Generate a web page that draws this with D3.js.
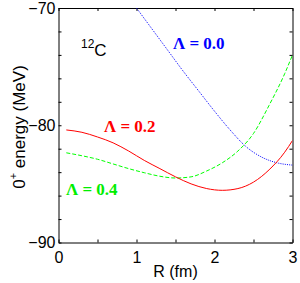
<!DOCTYPE html>
<html>
<head>
<meta charset="utf-8">
<script src="https://cdn.jsdelivr.net/npm/d3@7"></script>
<style>
  body { margin: 0; background: #fff; }
  svg { display: block; }
  .tick text { font-family: "Liberation Sans", Arial, sans-serif; font-size: 16px; }
  .lab { font-family: "Liberation Sans", Arial, sans-serif; }
  .lam { font-family: "Liberation Serif", "Times New Roman", serif; font-weight: bold; font-size: 17px; }
</style>
</head>
<body>
<svg width="300" height="283"></svg>
<script>
// R (fm) and 0+ energy (MeV) for each Lambda
var rBlue = [1.0, 1.2, 1.4, 1.6, 1.8, 2.0, 2.2, 2.4, 2.6, 2.8, 3.0],
    eBlue = [-70.0, -71.8, -73.6, -75.4, -77.1, -78.8, -80.4, -81.8, -82.7, -83.2, -83.4];

var rRed = [0.1, 0.3, 0.5, 0.7, 0.9, 1.1, 1.3, 1.5, 1.7, 1.9, 2.1, 2.3, 2.5, 2.7, 2.9, 3.0],
    eRed = [-80.4, -80.6, -81.0, -81.5, -82.2, -83.0, -83.7, -84.4, -85.0, -85.4, -85.55, -85.4, -84.85, -83.8, -82.3, -81.3];

var rGreen = [0.1, 0.3, 0.5, 0.7, 0.9, 1.1, 1.3, 1.5, 1.7, 1.9, 2.1, 2.3, 2.5, 2.7, 2.9, 3.0],
    eGreen = [-82.35, -82.6, -82.9, -83.3, -83.7, -84.05, -84.35, -84.5, -84.4, -83.9, -83.2, -82.2, -80.7, -78.3, -75.6, -74.0];

var xTicks = [0, 1, 2, 3],
    xMinor = [0, 0.5, 1, 1.5, 2, 2.5, 3],
    yTicks = [-90, -80, -70],
    yMinor = [-90, -88, -86, -84, -82, -80, -78, -76, -74, -72, -70];

var svg = d3.select("svg"),
    margin = {top: 8, right: 7.5, bottom: 40.5, left: 58.5},
    width = +svg.attr("width") - margin.left - margin.right,
    height = +svg.attr("height") - margin.top - margin.bottom,
    g = svg.append("g")
      .attr("transform", "translate(" + margin.left + "," + margin.top + ")");

var x = d3.scaleLinear().domain([0, 3]).range([0, width]);
var y = d3.scaleLinear().domain([-90, -70]).range([height, 0]);

var line = d3.line()
    .x(function(d) { return x(d[0]); })
    .y(function(d) { return y(d[1]); })
    .curve(d3.curveMonotoneX);

g.append("defs").append("clipPath")
    .attr("id", "clip")
  .append("rect")
    .attr("width", width)
    .attr("height", height);

// axes, ticks pointing inward on all four sides
function noLabels(a) { return a.tickFormat(""); }

g.append("g")
    .attr("transform", "translate(0," + height + ")")
    .call(noLabels(d3.axisBottom(x).tickValues(xMinor).tickSizeInner(-3).tickSizeOuter(0)));
g.append("g")
    .attr("transform", "translate(0," + height + ")")
    .call(d3.axisBottom(x).tickValues(xTicks).tickSize(0).tickPadding(9).tickFormat(d3.format("d")))
    .call(function(s) { s.select(".domain").remove(); });
g.append("g")
    .call(noLabels(d3.axisTop(x).tickValues(xMinor).tickSizeInner(-3).tickSizeOuter(0)));

g.append("g")
    .call(noLabels(d3.axisLeft(y).tickValues(yMinor).tickSizeInner(-3).tickSizeOuter(0)));
g.append("g")
    .call(d3.axisLeft(y).tickValues(yTicks).tickSize(0).tickPadding(3).tickFormat(function(d) { return "\u2212" + Math.abs(d); }))
    .call(function(s) { s.select(".domain").remove(); });
g.append("g")
    .attr("transform", "translate(" + width + ",0)")
    .call(noLabels(d3.axisRight(y).tickValues(yMinor).tickSizeInner(-3).tickSizeOuter(0)));

g.selectAll(".domain").attr("stroke", "#000");
g.selectAll(".tick line").attr("stroke", "#000");
g.selectAll(".tick text").attr("fill", "#000");

// curves
var curves = g.append("g").attr("clip-path", "url(#clip)");

curves.append("path")
    .datum(d3.zip(rBlue, eBlue))
    .attr("d", line)
    .attr("fill", "none")
    .attr("stroke", "#0000ff")
    .attr("stroke-width", 1)
    .attr("stroke-dasharray", "1,1.2");

curves.append("path")
    .datum(d3.zip(rGreen, eGreen))
    .attr("d", line)
    .attr("fill", "none")
    .attr("stroke", "#00ff00")
    .attr("stroke-width", 1)
    .attr("stroke-dasharray", "4,2");

curves.append("path")
    .datum(d3.zip(rRed, eRed))
    .attr("d", line)
    .attr("fill", "none")
    .attr("stroke", "#ff0000")
    .attr("stroke-width", 1);

// labels
svg.append("text")
    .attr("class", "lam")
    .attr("x", 173).attr("y", 48.5)
    .attr("fill", "#0000ff")
    .text("\u039B = 0.0");

svg.append("text")
    .attr("class", "lam")
    .attr("x", 104).attr("y", 131.5)
    .attr("fill", "#ff0000")
    .text("\u039B = 0.2");

svg.append("text")
    .attr("class", "lam")
    .attr("x", 66).attr("y", 195)
    .attr("fill", "#00ee00")
    .text("\u039B = 0.4");

var nuc = svg.append("text")
    .attr("class", "lab")
    .attr("x", 81).attr("y", 56)
    .attr("font-size", 17);
nuc.append("tspan").attr("font-size", 12).attr("dy", -8).text("12");
nuc.append("tspan").attr("dy", 8).text("C");

svg.append("text")
    .attr("class", "lab")
    .attr("font-size", 16)
    .attr("text-anchor", "middle")
    .attr("x", margin.left + x(1.5)).attr("y", 277)
    .text("R (fm)");

var yl = svg.append("text")
    .attr("class", "lab")
    .attr("font-size", 17)
    .attr("text-anchor", "middle")
    .attr("transform", "translate(25,127)rotate(-90)");
yl.append("tspan").text("0");
yl.append("tspan").attr("font-size", 11).attr("dy", -8).text("+");
yl.append("tspan").attr("dy", 8).text(" energy (MeV)");
</script>
</body>
</html>
